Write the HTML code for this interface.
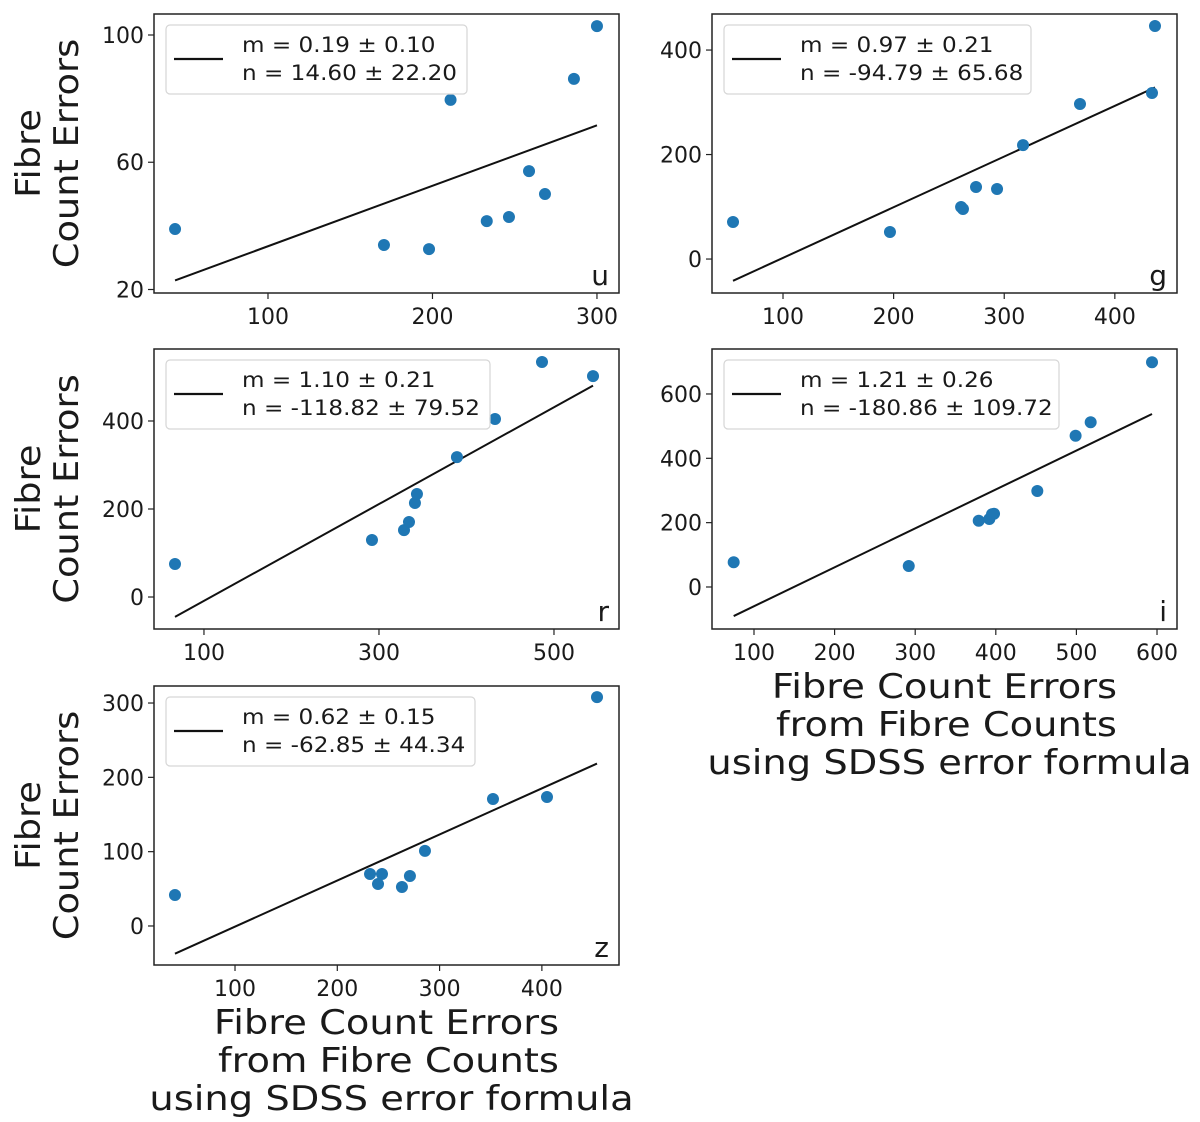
<!DOCTYPE html>
<html><head><meta charset="utf-8"><style>
html,body{margin:0;padding:0;background:#fff}
svg{display:block}
text{font-family:"DejaVu Sans","Liberation Sans",sans-serif;fill:#1a1a1a}
</style></head><body>
<svg id="fig" width="1200" height="1122" viewBox="0 0 1200 1122" xmlns="http://www.w3.org/2000/svg"></svg>
<script>
const bands = ['u','g','r','i','z'];
const uX = [43.5,170.5,197.9,211,233,246.5,258.7,268.4,286,300];
const uY = [39,34,32.7,79.6,41.5,42.8,57.2,50,86.2,102.8];
const gX = [54.8,196.7,261,262.7,274.5,293.5,317,368.5,433.6,436.3];
const gY = [70.8,51.7,99.5,95.7,137.8,134,218,296.7,317.7,446];
const rX = [66.9,292,328.6,334.3,341.1,343.4,389.1,432.6,486.3,544.6];
const rY = [75,129.5,152,170.5,213.6,234,318,404.5,534,502];
const iX = [74.8,292,378.8,392,397.8,395.3,451.5,499,517.7,593.8];
const iY = [76.8,65.3,206,211.4,227.8,226,298.4,470.3,512,698.5];
const zX = [41.3,232,239.8,243.7,263.2,271,285.7,352.2,405,453.9];
const zY = [41.7,70,56.5,70,52.5,67.3,101,170.9,173.5,308];
const slopes = [0.19,0.97,1.10,1.21,0.62];
const intercepts = [14.60,-94.79,-118.82,-180.86,-62.85];
const mLabels = ['m = 0.19 ± 0.10','m = 0.97 ± 0.21','m = 1.10 ± 0.21','m = 1.21 ± 0.26','m = 0.62 ± 0.15'];
const nLabels = ['n = 14.60 ± 22.20','n = -94.79 ± 65.68','n = -118.82 ± 79.52','n = -180.86 ± 109.72','n = -62.85 ± 44.34'];
const uXTicks = [100,200,300], uYTicks = [20,60,100];
const gXTicks = [100,200,300,400], gYTicks = [0,200,400];
const rXTicks = [100,300,500], rYTicks = [0,200,400];
const iXTicks = [100,200,300,400,500,600], iYTicks = [0,200,400,600];
const zXTicks = [100,200,300,400], zYTicks = [0,100,200,300];

const panels = [
 {xs:uX,ys:uY,xt:uXTicks,yt:uYTicks,box:[154,14,619,293],xl:[30.7,313.4],yl:[18.9,106.6],legW:301,ylab:true,xlab:false},
 {xs:gX,ys:gY,xt:gXTicks,yt:gYTicks,box:[712,14,1177,293],xl:[35.8,456.2],yl:[-65,469],legW:307,ylab:false,xlab:false},
 {xs:rX,ys:rY,xt:rXTicks,yt:rYTicks,box:[154,349,619,629],xl:[42.9,574.3],yl:[-72.7,563.6],legW:324,ylab:true,xlab:false},
 {xs:iX,ys:iY,xt:iXTicks,yt:iYTicks,box:[712,349,1177,629],xl:[47.9,624.8],yl:[-130.6,739.8],legW:335,ylab:false,xlab:true},
 {xs:zX,ys:zY,xt:zXTicks,yt:zYTicks,box:[154,686,619,965],xl:[20.8,475.4],yl:[-52.5,322.9],legW:309,ylab:true,xlab:true}
];
const NS='http://www.w3.org/2000/svg';
const svg=document.getElementById('fig');
function mk(tag,attrs,parent,txt){const e=document.createElementNS(NS,tag);for(const k in attrs)e.setAttribute(k,attrs[k]);if(txt!==undefined)e.textContent=txt;(parent||svg).appendChild(e);return e;}
function widen(el,f){try{const L=el.getComputedTextLength();if(L>0){el.setAttribute('textLength',(L*f).toFixed(1));el.setAttribute('lengthAdjust','spacingAndGlyphs');}}catch(e){}}

panels.forEach((p,pi)=>{
  const [x0,y0,x1,y1]=p.box;
  const g=mk('g',{});
  
  
  const sx=v=>x0+(v-p.xl[0])/(p.xl[1]-p.xl[0])*(x1-x0);
  const sy=v=>y1-(v-p.yl[0])/(p.yl[1]-p.yl[0])*(y1-y0);
  p.xt.forEach(t=>{
    const X=sx(t);
    const tl=mk('line',{x1:X,x2:X,y1:y1,y2:y1+6,stroke:'#222','stroke-width':1.2},g);
    
    
    const tx=mk('text',{x:X,y:y1+31,'text-anchor':'middle','font-size':22},g,String(t));
    
    
  });
  p.yt.forEach(t=>{
    const Y=sy(t);
    const tl=mk('line',{x1:x0-6,x2:x0,y1:Y,y2:Y,stroke:'#222','stroke-width':1.2},g);
    
    
    const tx=mk('text',{x:x0-10,y:Y+8,'text-anchor':'end','font-size':22},g,String(t));
    
    
  });
  const xa=Math.min(...p.xs), xb=Math.max(...p.xs);
  const m=slopes[pi], n=intercepts[pi];
  const fl=mk('line',{x1:sx(xa),y1:sy(m*xa+n),x2:sx(xb),y2:sy(m*xb+n),stroke:'#111','stroke-width':2},g);
  
  
  p.xs.forEach((v,i)=>{
    const c=mk('circle',{cx:sx(v),cy:sy(p.ys[i]),r:6,fill:'#1f77b4'},g);
    
    
  });
  const fr=mk('rect',{x:x0,y:y0,width:x1-x0,height:y1-y0,fill:'none',stroke:'#222','stroke-width':1.5},g);
  
  
  const lg=mk('g',{},g);
  
  
  mk('rect',{x:x0+12,y:y0+11,width:p.legW,height:69,rx:4,fill:'#fff','fill-opacity':0.85,stroke:'#d6d6d6','stroke-width':1.2},lg);
  mk('line',{x1:x0+20,x2:x0+69,y1:y0+45,y2:y0+45,stroke:'#111','stroke-width':2.2},lg);
  const t1=mk('text',{x:x0+88,y:y0+38,'font-size':21},lg,mLabels[pi]);
  
  
  widen(t1,1.1);
  const t2=mk('text',{x:x0+88,y:y0+66,'font-size':21},lg,nLabels[pi]);
  
  
  widen(t2,1.1);
  const bl=mk('text',{x:x1-10,y:y1-8,'text-anchor':'end','font-size':28},g,bands[pi]);
  
  
  if(p.ylab){
    const cy=(y0+y1)/2;
    const yl=mk('text',{transform:`translate(0,${cy}) rotate(-90)`,'text-anchor':'middle','font-size':34},g);
    
    
    const a=mk('tspan',{x:0,y:40},yl,'Fibre');
    const b=mk('tspan',{x:0,y:78},yl,'Count Errors');
    widen(a,1.08);widen(b,1.08);
  }
  if(p.xlab){
    const cx=(x0+x1)/2;
    const xt=mk('g',{},g);
    
    
    const l1=mk('text',{x:cx,y:y1+69,'text-anchor':'middle','font-size':34},xt,'Fibre Count Errors');
    const l2=mk('text',{x:cx+2,y:y1+107,'text-anchor':'middle','font-size':34},xt,'from Fibre Counts');
    const l3=mk('text',{x:cx+5,y:y1+145,'text-anchor':'middle','font-size':34},xt,'using SDSS error formula');
    [l1,l2,l3].forEach(e=>widen(e,1.13));
  }
});
</script>
</body></html>
